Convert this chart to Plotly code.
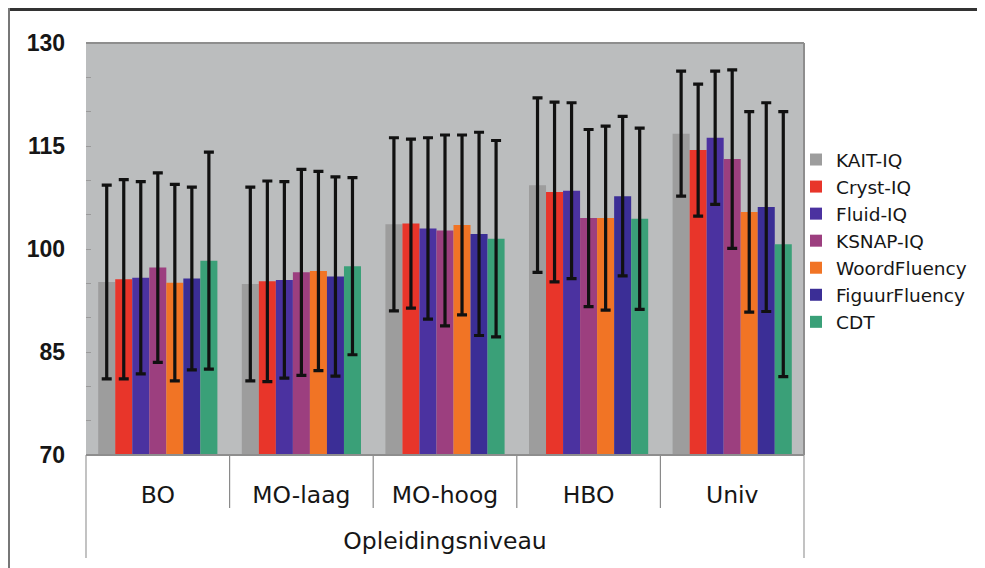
import plotly.graph_objects as go

categories = ["BO", "MO-laag", "MO-hoog", "HBO", "Univ"]
series_names = ["KAIT-IQ", "Cryst-IQ", "Fluid-IQ", "KSNAP-IQ", "WoordFluency", "FiguurFluency", "CDT"]

kait = [95.2, 94.9, 103.6, 109.3, 116.8]
cryst = [95.6, 95.3, 103.7, 108.3, 114.4]
fluid = [95.8, 95.5, 103.0, 108.5, 116.2]
ksnap = [97.3, 96.6, 102.7, 104.5, 113.1]
woord = [95.1, 96.8, 103.5, 104.5, 105.4]
figuur = [95.7, 96.0, 102.2, 107.7, 106.1]
cdt = [98.3, 97.5, 101.5, 104.4, 100.7]

kait_sd = [14.1, 14.1, 12.6, 12.7, 9.1]
cryst_sd = [14.5, 14.6, 12.3, 13.1, 9.6]
fluid_sd = [14.0, 14.3, 13.2, 12.8, 9.7]
ksnap_sd = [13.8, 15.0, 13.9, 12.9, 13.0]
woord_sd = [14.3, 14.5, 13.1, 13.4, 14.6]
figuur_sd = [13.3, 14.5, 14.8, 11.6, 15.2]
cdt_sd = [15.8, 12.9, 14.3, 13.2, 19.3]

y_ticks = [70, 85, 100, 115, 130]
axis_title = "Opleidingsniveau"

values = [kait, cryst, fluid, ksnap, woord, figuur, cdt]
errors = [kait_sd, cryst_sd, fluid_sd, ksnap_sd, woord_sd, figuur_sd, cdt_sd]
colors = ["#9d9d9d", "#e8352a", "#4b32a0", "#9c3f7f", "#f17425", "#3b2e96", "#3aa078"]

TXT = "#161616"
SANS = "DejaVu Sans, Liberation Sans, Arial, sans-serif"

fig = go.Figure()
for name, v, e, c in zip(series_names, values, errors, colors):
    fig.add_trace(go.Bar(
        name=name, x=categories, y=v, marker=dict(color=c, line=dict(width=0)),
        error_y=dict(type="data", array=e, visible=True, color="#111111", thickness=3.2, width=5),
    ))

# page has an 8px body margin; work in figure coordinates
OFF = 8
W, H = 985 - OFF, 568 - OFF
L, R, T, B = 86 - OFF, 804 - OFF, 43 - OFF, 455 - OFF
pw, ph = R - L, B - T

def px(x):
    return (x - OFF - L) / pw

def py(y):
    return (B - (y - OFF)) / ph

shapes = []
for i in range(1, 5):
    shapes.append(dict(type="line", xref="paper", yref="paper", x0=i / 5, x1=i / 5,
                       y0=0, y1=py(508), line=dict(color="#8a8a8a", width=1.2)))
for xv in (0, 1):
    shapes.append(dict(type="line", xref="paper", yref="paper", x0=xv, x1=xv,
                       y0=0, y1=py(558), line=dict(color="#9a9a9a", width=1.2)))
shapes.append(dict(type="line", xref="paper", yref="paper", x0=0, x1=1, y0=1, y1=1,
                   line=dict(color="#8e8e8e", width=2)))
shapes.append(dict(type="line", xref="paper", yref="paper", x0=1, x1=1, y0=0, y1=1,
                   line=dict(color="#8e8e8e", width=2)))
shapes.append(dict(type="line", xref="paper", yref="paper", x0=0, x1=1, y0=0, y1=0,
                   line=dict(color="#8e8e8e", width=2)))
# image border (top and left)
shapes.append(dict(type="line", xref="paper", yref="paper", x0=px(OFF), x1=px(985), y0=py(OFF + 1.5), y1=py(OFF + 1.5),
                   line=dict(color="#333333", width=3)))
shapes.append(dict(type="line", xref="paper", yref="paper", x0=px(OFF + 1), x1=px(OFF + 1), y0=py(OFF), y1=py(568),
                   line=dict(color="#777777", width=2)))

fig.update_layout(
    width=W, height=H,
    margin=dict(l=L, r=W - R, t=T, b=H - B, autoexpand=False),
    paper_bgcolor="#ffffff",
    plot_bgcolor="#bbbdbe",
    barmode="group", bargap=0.17, bargroupgap=0,
    font=dict(family=SANS, color=TXT),
    showlegend=True,
    legend=dict(x=px(796), y=py(141), xanchor="left", yanchor="top",
                font=dict(size=18.5, color=TXT, family=SANS), bgcolor="rgba(0,0,0,0)",
                itemwidth=30, tracegroupgap=0),
    shapes=shapes,
)
fig.update_yaxes(range=[70, 130], tickvals=y_ticks, ticktext=[str(t) for t in y_ticks],
                 showgrid=False, zeroline=False, showline=False,
                 ticks="", ticklabelstandoff=20,
                 tickfont=dict(size=23, color=TXT, family="Liberation Sans, Arial, sans-serif", weight="bold"),
                 minor=dict(dtick=5, ticks="inside", ticklen=5, tickcolor="#9a9a9a", showgrid=False))
fig.update_xaxes(showgrid=False, zeroline=False, showline=False, ticks="",
                 ticklabelstandoff=23,
                 tickfont=dict(size=23.5, color=TXT, family=SANS),
                 title=dict(text=axis_title, font=dict(size=23.5, color=TXT, family=SANS), standoff=25))

fig.write_html("out.html")
